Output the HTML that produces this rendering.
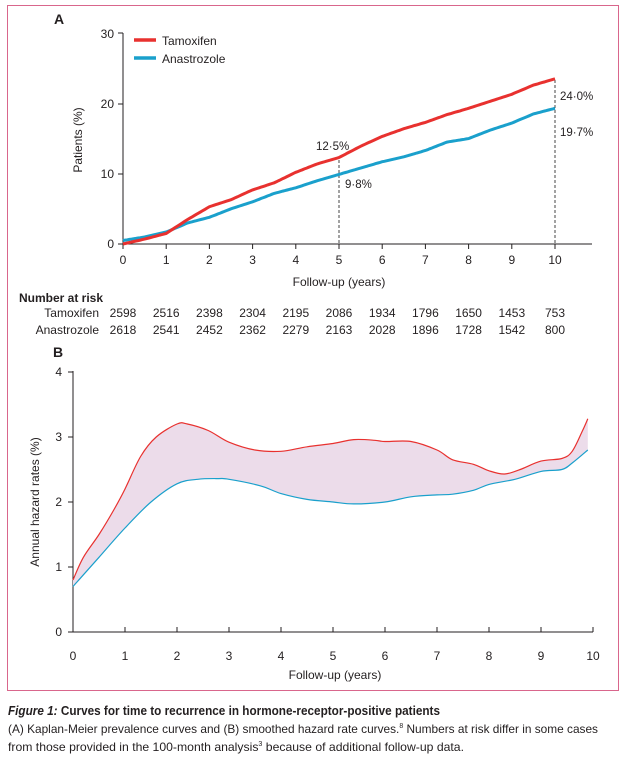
<!DOCTYPE html>
<html><head><meta charset="utf-8"><style>
body{margin:0;background:#fff;width:626px;height:759px;overflow:hidden;font-family:"Liberation Sans",sans-serif}
svg text{font-family:"Liberation Sans",sans-serif;fill:#231f20}
</style></head><body>
<svg id="s" width="626" height="759" xmlns="http://www.w3.org/2000/svg">
<rect x="7.5" y="5.5" width="611" height="685" fill="none" stroke="#d9668c" stroke-width="1"/>
<text x="54" y="24" font-size="14" font-weight="bold">A</text>
<g stroke="#231f20" stroke-width="1" fill="none">
<path d="M123,33V244H592"/>
<path d="M118,33H123M118,104H123M118,174H123M118,244H123"/>
</g>
<g font-size="12" text-anchor="end">
<text x="114" y="38">30</text><text x="114" y="108">20</text><text x="114" y="178">10</text><text x="114" y="248">0</text>
</g>
<text transform="translate(82,140) rotate(-90)" font-size="12" text-anchor="middle">Patients (%)</text>
<line x1="134" y1="40" x2="156" y2="40" stroke="#e8312f" stroke-width="3.5"/>
<line x1="134" y1="58" x2="156" y2="58" stroke="#1aa0cc" stroke-width="3.5"/>
<text x="162" y="45" font-size="12">Tamoxifen</text>
<text x="162" y="63" font-size="12">Anastrozole</text>
<text x="339" y="286" font-size="12" text-anchor="middle">Follow-up (years)</text>
<text x="19" y="302" font-size="12" font-weight="bold">Number at risk</text>
<text x="99" y="317" font-size="12" text-anchor="end">Tamoxifen</text>
<text x="99" y="334" font-size="12" text-anchor="end">Anastrozole</text>
<line x1="339" y1="160" x2="339" y2="244" stroke="#444" stroke-dasharray="3,2"/>
<line x1="555" y1="80" x2="555" y2="244" stroke="#444" stroke-dasharray="3,2"/>
<text x="316" y="150" font-size="11.5">12·5%</text>
<text x="345" y="188" font-size="11.5">9·8%</text>
<text x="560" y="100" font-size="11.5">24·0%</text>
<text x="560" y="136" font-size="11.5">19·7%</text>
<text x="53" y="357" font-size="14" font-weight="bold">B</text>
<text transform="translate(39,502) rotate(-90)" font-size="12" text-anchor="middle">Annual hazard rates (%)</text>
<text x="335" y="679" font-size="12" text-anchor="middle">Follow-up (years)</text>
<text x="8" y="715" font-size="13" font-weight="bold" textLength="432" lengthAdjust="spacingAndGlyphs"><tspan font-style="italic">Figure 1:</tspan> Curves for time to recurrence in hormone-receptor-positive patients</text>
<text x="8" y="733" font-size="12" textLength="590" lengthAdjust="spacingAndGlyphs">(A) Kaplan-Meier prevalence curves and (B) smoothed hazard rate curves.<tspan font-size="7" dy="-5">8</tspan><tspan dy="5"> Numbers at risk differ in some cases</tspan></text>
<text x="8" y="751" font-size="12" textLength="456" lengthAdjust="spacingAndGlyphs">from those provided in the 100-month analysis<tspan font-size="7" dy="-5">3</tspan><tspan dy="5"> because of additional follow-up data.</tspan></text>
<g id="dyn"></g>
</svg>
<script>
var NS="http://www.w3.org/2000/svg",g=document.getElementById("dyn");
function el(t,a,txt){var e=document.createElementNS(NS,t);for(var k in a)e.setAttribute(k,a[k]);if(txt!==undefined)e.textContent=txt;g.appendChild(e);return e;}
var ax=function(x){return 123+x*43.2},ay=function(y){return 244-y*7.03};
for(var i=0;i<=10;i++){el("line",{x1:ax(i),y1:244,x2:ax(i),y2:249,stroke:"#231f20"});el("text",{x:ax(i),y:264,"font-size":12,"text-anchor":"middle"},i);}
var tam=[2598,2516,2398,2304,2195,2086,1934,1796,1650,1453,753],ana=[2618,2541,2452,2362,2279,2163,2028,1896,1728,1542,800];
for(i=0;i<=10;i++){var cx=ax(i);el("text",{x:cx,y:317,"font-size":12,"text-anchor":"middle"},tam[i]);el("text",{x:cx,y:334,"font-size":12,"text-anchor":"middle"},ana[i]);}
function steps(pts,fx,fy){var d="",n=0;for(var j=0;j<pts.length-1;j++){var a=pts[j],b=pts[j+1];for(var k=0;k<10;k++){var t=k/10,x=a[0]+(b[0]-a[0])*t,y=a[1]+(b[1]-a[1])*t;d+=(n++?"L":"M")+fx(x).toFixed(1)+","+fy(y).toFixed(1);}}var l=pts[pts.length-1];return d+"L"+fx(l[0])+","+fy(l[1]);}
var rA=[[0,0],[0.5,0.7],[1,1.5],[1.5,3.5],[2,5.3],[2.5,6.3],[3,7.7],[3.5,8.7],[4,10.2],[4.5,11.4],[5,12.3],[5.5,13.9],[6,15.3],[6.5,16.4],[7,17.3],[7.5,18.4],[8,19.3],[8.5,20.3],[9,21.3],[9.5,22.6],[10,23.5]];
var bA=[[0,0.5],[0.5,1],[1,1.7],[1.5,3],[2,3.8],[2.5,5],[3,6],[3.5,7.2],[4,8],[4.5,9],[5,9.9],[5.5,10.8],[6,11.7],[6.5,12.4],[7,13.3],[7.5,14.5],[8,15],[8.5,16.2],[9,17.2],[9.5,18.5],[10,19.3]];
el("path",{d:steps(bA,ax,ay),stroke:"#1aa0cc","stroke-width":3,fill:"none"});
el("path",{d:steps(rA,ax,ay),stroke:"#e8312f","stroke-width":3,fill:"none"});
var bx=function(x){return 73+x*52},by=function(y){return 632-y*65};
el("path",{d:"M73,371V632H593",stroke:"#231f20",fill:"none"});
for(i=0;i<=4;i++){el("line",{x1:68,y1:by(i),x2:73,y2:by(i),stroke:"#231f20"});el("text",{x:62,y:by(i)+4,"font-size":12,"text-anchor":"end"},i);}
for(i=0;i<=10;i++){el("line",{x1:bx(i),y1:632,x2:bx(i),y2:627,stroke:"#231f20"});el("text",{x:bx(i),y:660,"font-size":12,"text-anchor":"middle"},i);}
var rB=[[0,0.8],[0.2,1.15],[0.5,1.5],[0.8,1.9],[1,2.2],[1.3,2.7],[1.6,3.0],[2,3.2],[2.2,3.2],[2.6,3.1],[3,2.92],[3.5,2.8],[4,2.78],[4.5,2.85],[5,2.9],[5.4,2.96],[5.8,2.95],[6,2.93],[6.5,2.93],[7,2.8],[7.3,2.65],[7.7,2.58],[8,2.48],[8.3,2.43],[8.6,2.5],[9,2.63],[9.4,2.67],[9.6,2.78],[9.8,3.1],[9.9,3.28]];
var bB=[[0,0.7],[0.2,0.88],[0.5,1.15],[1,1.6],[1.5,2.0],[2,2.28],[2.4,2.35],[2.8,2.36],[3,2.35],[3.6,2.25],[4,2.13],[4.5,2.04],[5,2.0],[5.4,1.97],[6,2.0],[6.5,2.08],[7,2.11],[7.3,2.12],[7.7,2.18],[8,2.27],[8.5,2.35],[9,2.47],[9.4,2.5],[9.6,2.6],[9.9,2.8]];
function smooth(p){var d="M"+bx(p[0][0])+","+by(p[0][1]);for(var j=0;j<p.length-1;j++){var p0=p[Math.max(j-1,0)],p1=p[j],p2=p[j+1],p3=p[Math.min(j+2,p.length-1)];var c1x=bx(p1[0]+(p2[0]-p0[0])/6),c1y=by(p1[1]+(p2[1]-p0[1])/6),c2x=bx(p2[0]-(p3[0]-p1[0])/6),c2y=by(p2[1]-(p3[1]-p1[1])/6);d+="C"+c1x.toFixed(1)+","+c1y.toFixed(1)+" "+c2x.toFixed(1)+","+c2y.toFixed(1)+" "+bx(p2[0]).toFixed(1)+","+by(p2[1]).toFixed(1);}return d;}
var rev=bB.slice().reverse();
el("path",{d:smooth(rB)+"L"+smooth(rev).slice(1)+"Z",fill:"#ecdcea",stroke:"none"});
el("path",{d:smooth(bB),stroke:"#1aa0cc","stroke-width":1.2,fill:"none"});
el("path",{d:smooth(rB),stroke:"#e8312f","stroke-width":1.2,fill:"none"});
</script>
</body></html>
